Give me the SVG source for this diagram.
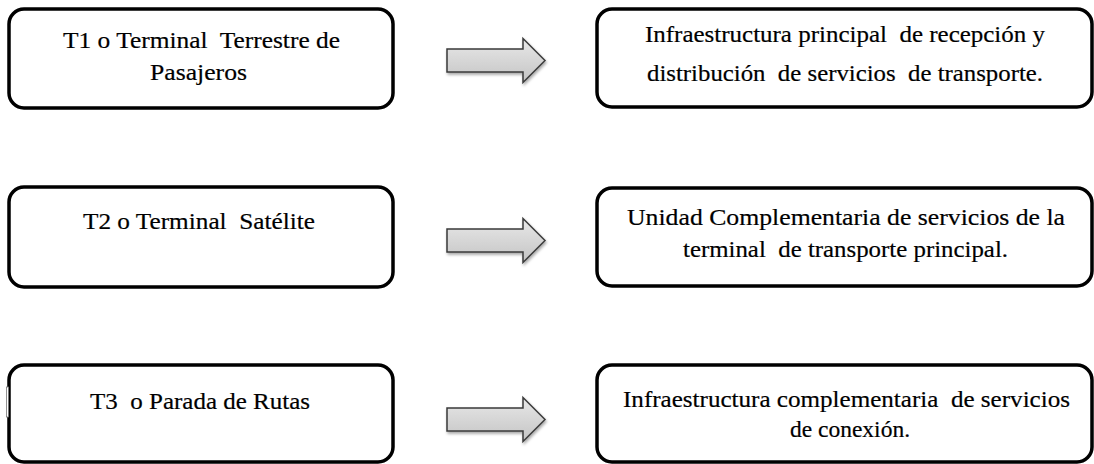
<svg xmlns="http://www.w3.org/2000/svg" width="1094" height="464" viewBox="0 0 1094 464">
<style>
.box{fill:#fff;stroke:#000;stroke-width:3.5}
.t{font-family:"Liberation Serif","Times New Roman",serif;font-size:24px;fill:#000;stroke:#000;stroke-width:0.2;text-anchor:middle}
.arr{fill:url(#ag);stroke:#3a3a3a;stroke-width:1.5;stroke-linejoin:miter}
</style>
<defs>
<linearGradient id="ag" x1="0" y1="0" x2="0" y2="1">
<stop offset="0" stop-color="#e8e8e8"/>
<stop offset="1" stop-color="#c4c4c4"/>
</linearGradient>
<filter id="sh" x="-10%" y="-20%" width="130%" height="150%">
<feGaussianBlur in="SourceAlpha" stdDeviation="1.5"/>
<feOffset dx="1" dy="2" result="b"/>
<feComponentTransfer><feFuncA type="linear" slope="0.35"/></feComponentTransfer>
<feMerge><feMergeNode/><feMergeNode in="SourceGraphic"/></feMerge>
</filter>
<path id="arrow" class="arr" d="M0,-11.5 H76 V-22 L98,0 L76,22 V11.5 H0 Z"/>
</defs>
<rect width="1094" height="464" fill="#fff"/>
<g id="n1">
<rect class="box" x="9" y="9" width="384" height="99" rx="15"/>
<text class="t" xml:space="preserve" x="201.5" y="48" textLength="277" lengthAdjust="spacingAndGlyphs">T1 o Terminal  Terrestre de</text>
<text class="t" x="198.5" y="80" textLength="97" lengthAdjust="spacingAndGlyphs">Pasajeros</text>
</g>
<g id="n2">
<rect class="box" x="597" y="9" width="495" height="98" rx="15"/>
<text class="t" xml:space="preserve" x="845" y="42" textLength="400" lengthAdjust="spacingAndGlyphs">Infraestructura principal  de recepción y</text>
<text class="t" xml:space="preserve" x="845" y="81" textLength="396" lengthAdjust="spacingAndGlyphs">distribución  de servicios  de transporte.</text>
</g>
<g id="n3">
<rect class="box" x="9" y="187" width="384" height="100" rx="15"/>
<text class="t" xml:space="preserve" x="199" y="229" textLength="232" lengthAdjust="spacingAndGlyphs">T2 o Terminal  Satélite</text>
</g>
<g id="n4">
<rect class="box" x="597" y="188" width="495" height="98" rx="15"/>
<text class="t" xml:space="preserve" x="846" y="225" textLength="438" lengthAdjust="spacingAndGlyphs">Unidad Complementaria de servicios de la</text>
<text class="t" xml:space="preserve" x="845.5" y="257" textLength="325" lengthAdjust="spacingAndGlyphs">terminal  de transporte principal.</text>
</g>
<g id="n5">
<rect class="box" x="9" y="365" width="384" height="97" rx="15"/>
<rect x="6.5" y="387" width="2" height="30" fill="#fff" stroke="#777" stroke-width="0.8"/>
<text class="t" xml:space="preserve" x="200" y="409" textLength="220" lengthAdjust="spacingAndGlyphs">T3  o Parada de Rutas</text>
</g>
<g id="n6">
<rect class="box" x="597" y="365" width="495" height="97" rx="15"/>
<text class="t" xml:space="preserve" x="846.5" y="407" textLength="447" lengthAdjust="spacingAndGlyphs">Infraestructura complementaria  de servicios</text>
<text class="t" x="850" y="437" textLength="120" lengthAdjust="spacingAndGlyphs">de conexión.</text>
</g>
<g id="connectors" filter="url(#sh)">
<use href="#arrow" x="447" y="60.5"/>
<use href="#arrow" x="447" y="240.5"/>
<use href="#arrow" x="447" y="419.5"/>
</g>
</svg>
